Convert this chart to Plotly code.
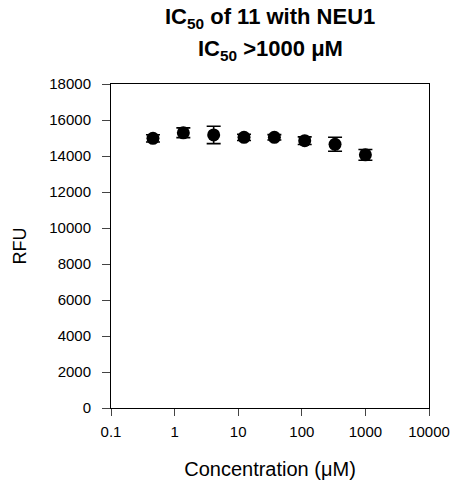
import plotly.graph_objects as go

conc = [0.457, 1.372, 4.115, 12.35, 37.04, 111.1, 333.3, 1000]
rfu = [14980, 15290, 15170, 15035, 15035, 14850, 14650, 14065]
err = [200, 270, 480, 170, 150, 210, 390, 300]
xticks = [0.1, 1, 10, 100, 1000, 10000]
xticklabels = ["0.1", "1", "10", "100", "1000", "10000"]
title_lines = ["<b>IC<sub>50</sub> of 11 with NEU1</b>", "<b>IC<sub>50</sub> >1000 μM</b>"]

fig = go.Figure()
fig.add_trace(go.Scatter(
    x=conc, y=rfu, mode="markers",
    marker=dict(color="black", size=13),
    error_y=dict(type="data", array=err, color="black", thickness=1.6, width=7),
    showlegend=False,
))

font = "Liberation Sans, Arial, sans-serif"
W, H = 462, 489
fig.update_layout(
    width=W, height=H,
    margin=dict(l=111, r=25, t=84, b=81),
    paper_bgcolor="white", plot_bgcolor="white",
    font=dict(family=font, color="black", size=15),
    xaxis=dict(
        type="log", range=[-1, 4], tickvals=xticks, ticktext=xticklabels,
        showline=True, linecolor="black", linewidth=1, mirror=True,
        ticks="outside", ticklen=7, tickcolor="#444", showgrid=False, zeroline=False,
        ticklabelstandoff=3,
        title=dict(text="Concentration (μM)", font=dict(size=20), standoff=22),
    ),
    yaxis=dict(
        range=[0, 18000], dtick=2000, tickformat="d",
        showline=True, linecolor="black", linewidth=1, mirror=True,
        ticks="outside", ticklen=8, tickcolor="#444", showgrid=False, zeroline=False,
        ticklabelstandoff=8,
        title=dict(text="RFU", font=dict(size=18), standoff=17),
    ),
)
for i, (txt, yb) in enumerate(zip(title_lines, [34, 66])):
    fig.add_annotation(
        text=txt, xref="paper", x=0.5, xanchor="center",
        yref="paper", y=1 + (84 - yb) / (H - 84 - 81), yanchor="bottom",
        showarrow=False, font=dict(size=22, color="black", family=font),
    )
fig.write_html("out.html")
